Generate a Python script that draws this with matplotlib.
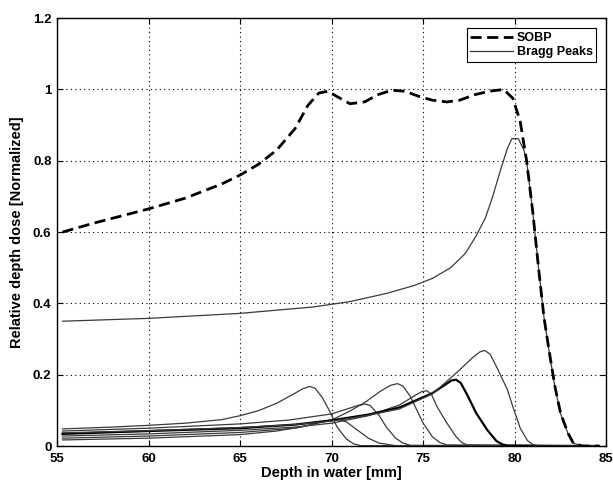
import matplotlib
matplotlib.use('Agg')
import matplotlib.pyplot as plt

# SOBP (dashed)
sobp_x = [55.3, 57, 60, 62, 64, 65, 66, 67, 68, 68.7, 69.3, 69.8, 70.3, 71, 71.8, 72.5, 73.3, 74,
          74.8, 75.5, 76.3, 77, 77.8, 78.6, 79.4, 79.9, 80.3, 80.65, 81.0, 81.3, 81.6, 81.9, 82.2,
          82.5, 82.9, 83.2, 83.7, 84.6]
sobp_y = [0.60, 0.625, 0.665, 0.695, 0.735, 0.76, 0.79, 0.83, 0.89, 0.955, 0.99, 0.995, 0.98, 0.96,
          0.965, 0.985, 0.998, 0.995, 0.98, 0.97, 0.965, 0.97, 0.985, 0.995, 1.0, 0.975, 0.91, 0.80,
          0.65, 0.5, 0.36, 0.26, 0.166, 0.093, 0.037, 0.008, 0.0, 0.0]

# individual Bragg peaks
peakA_x = [55.3, 58, 60, 62, 64, 65, 66, 67, 68, 68.4, 68.8, 69.1, 69.5, 69.9, 70.3, 70.8, 71.2,
           71.6, 84.6]
peakA_y = [0.048, 0.053, 0.058, 0.064, 0.074, 0.085, 0.099, 0.120, 0.148, 0.160, 0.167, 0.162,
           0.135, 0.097, 0.053, 0.020, 0.006, 0.001, 0]

peakB_x = [55.3, 60, 65, 67, 68.5, 69.5, 70.0, 70.4, 70.8, 71.4, 72.0, 72.6, 73.5, 84.6]
peakB_y = [0.017, 0.022, 0.032, 0.042, 0.055, 0.068, 0.073, 0.074, 0.068, 0.045, 0.022, 0.008,
           0.001, 0]

peakC_x = [55.3, 60, 65, 68, 70, 71, 71.5, 71.8, 72.1, 72.6, 73.0, 73.5, 73.9, 74.3, 84.6]
peakC_y = [0.022, 0.028, 0.038, 0.050, 0.073, 0.098, 0.113, 0.118, 0.114, 0.085, 0.052, 0.022,
           0.008, 0.002, 0]

peakD_x = [55.3, 60, 65, 67.7, 70, 71.7, 72.65, 73.2, 73.6, 73.9, 74.3, 74.65, 75.0, 75.5, 75.9,
           76.3, 84.6]
peakD_y = [0.042, 0.050, 0.062, 0.073, 0.090, 0.118, 0.153, 0.170, 0.175, 0.168, 0.139, 0.101,
           0.064, 0.026, 0.010, 0.003, 0]

peakE_x = [55.3, 60, 65, 68, 70, 72, 73.7, 74.5, 74.9, 75.2, 75.45, 75.75, 76.3, 76.8, 77.1, 77.4,
           84.6]
peakE_y = [0.028, 0.034, 0.044, 0.053, 0.064, 0.085, 0.115, 0.140, 0.152, 0.155, 0.145, 0.111,
           0.064, 0.026, 0.010, 0.003, 0]

peakF_x = [55.3, 60, 65, 68, 70, 72, 73.7, 75.5, 76.2, 76.55, 76.8, 77.05, 77.4, 77.9, 78.5, 79.0,
           79.3, 79.6, 84.6]
peakF_y = [0.034, 0.042, 0.050, 0.060, 0.072, 0.088, 0.108, 0.148, 0.172, 0.184, 0.186, 0.177,
           0.144, 0.092, 0.045, 0.014, 0.005, 0.001, 0]

peakG_x = [55.3, 60, 65, 68, 70, 72, 73.7, 75.5, 76.9, 77.7, 78.1, 78.35, 78.65, 79.0, 79.6, 79.9,
           80.3, 80.7, 81.0, 81.3, 84.6]
peakG_y = [0.037, 0.043, 0.052, 0.060, 0.070, 0.086, 0.104, 0.146, 0.209, 0.248, 0.264, 0.268,
           0.258, 0.223, 0.158, 0.110, 0.050, 0.015, 0.004, 0.0, 0]

peakH_x = [55.3, 60, 65, 69, 71, 73, 74.5, 75.5, 76.5, 77.3, 77.9, 78.4, 78.8, 79.2, 79.6, 79.85,
           80.2, 80.5, 80.65, 81.0, 81.3, 81.6, 81.9, 82.2, 82.5, 82.9, 83.2, 83.7, 84.6]
peakH_y = [0.35, 0.358, 0.372, 0.39, 0.405, 0.428, 0.45, 0.47, 0.50, 0.54, 0.59, 0.64, 0.70, 0.77,
           0.835, 0.862, 0.862, 0.83, 0.80, 0.65, 0.50, 0.36, 0.258, 0.164, 0.091, 0.036, 0.008,
           0.0, 0]

xticks = [55, 60, 65, 70, 75, 80, 85]
yticks = [0, 0.2, 0.4, 0.6, 0.8, 1.0, 1.2]
yticklabels = ['0', '0.2', '0.4', '0.6', '0.8', '1', '1.2']

plt.rcParams['font.family'] = ['Liberation Sans', 'DejaVu Sans']
plt.rcParams['font.weight'] = 'bold'

fig = plt.figure(figsize=(6.13, 4.84), dpi=100)
ax = fig.add_axes([0.093, 0.0785, 0.896, 0.884])

gray = '#3a3a3a'
ax.plot(sobp_x, sobp_y, color='black', linestyle=(0, (4, 2)), lw=2.0, label='SOBP', zorder=5)
ax.plot(peakA_x, peakA_y, color=gray, lw=0.9, label='Bragg Peaks')
ax.plot(peakB_x, peakB_y, color=gray, lw=0.9)
ax.plot(peakC_x, peakC_y, color=gray, lw=0.9)
ax.plot(peakD_x, peakD_y, color=gray, lw=0.9)
ax.plot(peakE_x, peakE_y, color=gray, lw=0.9)
ax.plot(peakF_x, peakF_y, color='black', lw=1.6)
ax.plot(peakG_x, peakG_y, color=gray, lw=0.9)
ax.plot(peakH_x, peakH_y, color=gray, lw=0.9)

ax.set_xlim(55, 85)
ax.set_ylim(0, 1.2)
ax.set_xticks(xticks)
ax.set_yticks(yticks)
ax.set_yticklabels(yticklabels)
ax.tick_params(direction='in', top=True, right=True, labelsize=9.5, length=4)
ax.tick_params(axis='x', pad=5)
ax.tick_params(axis='y', pad=4)
ax.grid(True, linestyle=(0, (1, 3)), color='black', lw=0.8)
for s in ax.spines.values():
    s.set_linewidth(1.0)

ax.set_xlabel('Depth in water [mm]', fontsize=10.5, fontweight='bold', labelpad=1)
ax.set_ylabel('Relative depth dose [Normalized]', fontsize=10.5, fontweight='bold', labelpad=6)

leg = ax.legend(loc='upper right', fontsize=9, fancybox=False, edgecolor='black',
                framealpha=1, handlelength=3.4, borderaxespad=0.8, labelspacing=0.2,
                handletextpad=0.3, borderpad=0.3)
leg.get_frame().set_linewidth(0.8)

plt.savefig('out.png', dpi=100)
